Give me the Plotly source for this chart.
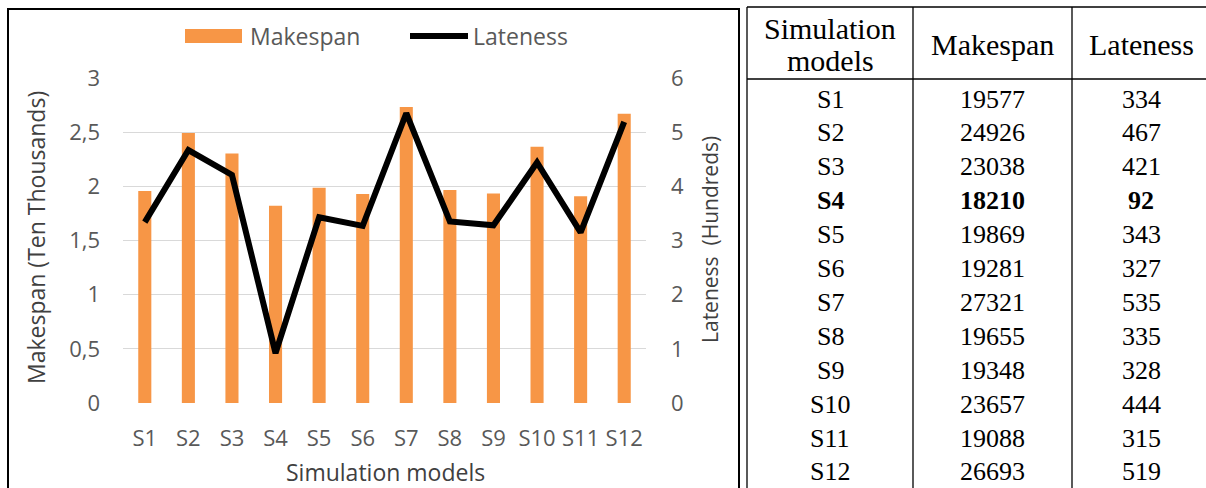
import plotly.graph_objects as go

# Simulation results
models = ["S1", "S2", "S3", "S4", "S5", "S6", "S7", "S8", "S9", "S10", "S11", "S12"]
makespan = [19577, 24926, 23038, 18210, 19869, 19281, 27321, 19655, 19348, 23657, 19088, 26693]
lateness = [334, 467, 421, 92, 343, 327, 535, 335, 328, 444, 315, 519]
best_model = "S4"

left_ticks = [0, 0.5, 1, 1.5, 2, 2.5, 3]
right_ticks = [0, 1, 2, 3, 4, 5, 6]

table_header = ["Simulation models", "Makespan", "Lateness"]

# Page geometry (pixels)
W, H = 1206, 488
PL, PR, PT, PB = 123, 646, 78, 403  # plot area edges

ORANGE = "#F79646"
TICK_GREY = "#595959"
TITLE_GREY = "#404040"
SANS = "Open Sans"
SERIF = "Liberation Serif"


def px(x):
    return (x - PL) / (PR - PL)


def py(y):
    return (PB - y) / (PB - PT)


fig = go.Figure()

fig.add_trace(go.Bar(
    x=models,
    y=[v / 10000 for v in makespan],
    name="Makespan",
    marker=dict(color=ORANGE, line=dict(width=0)),
    width=0.3,
    yaxis="y",
    showlegend=False,
))

fig.add_trace(go.Scatter(
    x=models,
    y=[v / 100 for v in lateness],
    name="Lateness",
    mode="lines",
    line=dict(color="black", width=6),
    yaxis="y2",
    showlegend=False,
))

shapes = []
annotations = []

# Frame around the chart
shapes.append(dict(type="rect", xref="paper", yref="paper",
                   x0=px(8), x1=px(739), y0=py(9), y1=py(520),
                   line=dict(color="black", width=2), fillcolor="rgba(0,0,0,0)"))

# Legend
shapes.append(dict(type="rect", xref="paper", yref="paper",
                   x0=px(185), x1=px(242), y0=py(43), y1=py(29),
                   line=dict(width=0), fillcolor=ORANGE))
annotations.append(dict(text="Makespan", xref="paper", yref="paper",
                        x=px(248), y=py(36), xanchor="left", yanchor="middle",
                        showarrow=False, font=dict(family=SANS, size=23, color=TICK_GREY)))
shapes.append(dict(type="line", xref="paper", yref="paper",
                   x0=px(410), x1=px(468), y0=py(36), y1=py(36),
                   line=dict(color="black", width=6)))
annotations.append(dict(text="Lateness", xref="paper", yref="paper",
                        x=px(471), y=py(36), xanchor="left", yanchor="middle",
                        showarrow=False, font=dict(family=SANS, size=23, color=TICK_GREY)))

# Axis titles
annotations.append(dict(text="Makespan (Ten Thousands)", xref="paper", yref="paper",
                        x=px(36), y=py(238), xanchor="center", yanchor="middle",
                        textangle=-90, showarrow=False,
                        font=dict(family=SANS, size=23, color=TITLE_GREY)))
annotations.append(dict(text="Lateness  (Hundreds)", xref="paper", yref="paper",
                        x=px(710), y=py(240), xanchor="center", yanchor="middle",
                        textangle=-90, showarrow=False,
                        font=dict(family=SANS, size=21, color=TITLE_GREY)))
annotations.append(dict(text="Simulation models", xref="paper", yref="paper",
                        x=px(385), y=py(472), xanchor="center", yanchor="middle",
                        showarrow=False, font=dict(family=SANS, size=23, color=TITLE_GREY)))

# Table of results
T_LEFT, T_RIGHT, T_TOP, T_HEAD = 747, 1210, 7, 79
col_edges = [913, 1072]
col_centers = [830, 992, 1141]
line_style = dict(color="black", width=1.3)
shapes.append(dict(type="line", xref="paper", yref="paper",
                   x0=px(T_LEFT), x1=px(T_RIGHT), y0=py(T_TOP), y1=py(T_TOP), line=line_style))
shapes.append(dict(type="line", xref="paper", yref="paper",
                   x0=px(T_LEFT), x1=px(T_RIGHT), y0=py(T_HEAD), y1=py(T_HEAD), line=line_style))
for xe in [T_LEFT] + col_edges:
    shapes.append(dict(type="line", xref="paper", yref="paper",
                       x0=px(xe), x1=px(xe), y0=py(T_TOP), y1=py(500), line=line_style))

header_font = dict(family=SERIF, size=30, color="black")
first_lines = table_header[0].split(" ")
for line_text, ly in zip(first_lines, [28, 61]):
    annotations.append(dict(text=line_text, xref="paper", yref="paper",
                            x=px(col_centers[0]), y=py(ly), xanchor="center", yanchor="middle",
                            showarrow=False, font=header_font))
for label, cx in zip(table_header[1:], col_centers[1:]):
    annotations.append(dict(text=label, xref="paper", yref="paper",
                            x=px(cx), y=py(45), xanchor="center", yanchor="middle",
                            showarrow=False, font=header_font))

row0, row_step = 99, 33.9
for i, (m, mk, lt) in enumerate(zip(models, makespan, lateness)):
    ry = row0 + i * row_step
    bold = m == best_model
    for val, cx in zip([m, str(mk), str(lt)], col_centers):
        txt = f"<b>{val}</b>" if bold else val
        annotations.append(dict(text=txt, xref="paper", yref="paper",
                                x=px(cx), y=py(ry), xanchor="center", yanchor="middle",
                                showarrow=False, font=dict(family=SERIF, size=26, color="black")))

fig.update_layout(
    width=W, height=H,
    margin=dict(l=PL, r=W - PR, t=PT, b=H - PB, pad=0),
    paper_bgcolor="white",
    plot_bgcolor="white",
    separators=", ",
    bargap=0.7,
    xaxis=dict(
        type="category",
        showgrid=False,
        showline=False,
        ticks="",
        tickfont=dict(family=SANS, size=22, color=TICK_GREY),
        ticklabelstandoff=20,
    ),
    yaxis=dict(
        range=[0, 3],
        tickvals=left_ticks,
        showgrid=True,
        gridcolor="#D9D9D9",
        gridwidth=1.3,
        zeroline=False,
        showline=False,
        ticks="",
        tickfont=dict(family=SANS, size=22, color=TICK_GREY),
        ticklabelstandoff=22,
        fixedrange=True,
    ),
    yaxis2=dict(
        range=[0, 6],
        tickvals=right_ticks,
        overlaying="y",
        side="right",
        showgrid=False,
        zeroline=False,
        showline=False,
        ticks="",
        tickfont=dict(family=SANS, size=22, color=TICK_GREY),
        ticklabelstandoff=24,
        fixedrange=True,
    ),
    shapes=shapes,
    annotations=annotations,
    showlegend=False,
)

fig.write_html("out.html")
